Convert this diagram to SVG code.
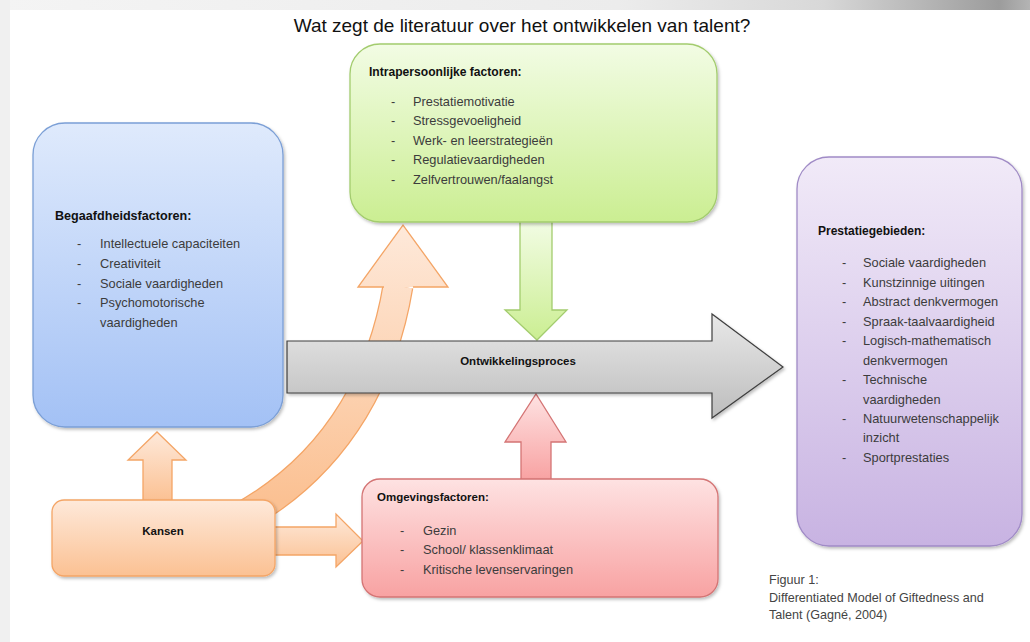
<svg xmlns="http://www.w3.org/2000/svg" width="1030" height="642" viewBox="0 0 1030 642">
<defs>
<linearGradient id="gTop" x1="0" y1="0" x2="1" y2="0">
<stop offset="0" stop-color="#f4f4f4"/><stop offset="0.6" stop-color="#ececec"/><stop offset="0.8" stop-color="#d8d8d8"/><stop offset="0.97" stop-color="#9c9c9c"/><stop offset="1" stop-color="#b4b4b4"/>
</linearGradient>
<linearGradient id="gBlue" x1="0" y1="0" x2="0" y2="1"><stop offset="0" stop-color="#dfeafc"/><stop offset="1" stop-color="#a3c1f5"/></linearGradient>
<linearGradient id="gGreen" x1="0" y1="0" x2="0" y2="1"><stop offset="0" stop-color="#f2fce4"/><stop offset="1" stop-color="#cbee92"/></linearGradient>
<linearGradient id="gPurple" x1="0" y1="0" x2="0" y2="1"><stop offset="0" stop-color="#f1eaf8"/><stop offset="1" stop-color="#c8b3e2"/></linearGradient>
<linearGradient id="gOrange" x1="0" y1="0" x2="0" y2="1"><stop offset="0" stop-color="#fee9da"/><stop offset="1" stop-color="#fbc193"/></linearGradient>
<linearGradient id="gRed" x1="0" y1="0" x2="0" y2="1"><stop offset="0" stop-color="#fee2e2"/><stop offset="1" stop-color="#f8a2a2"/></linearGradient>
<linearGradient id="gGray" x1="0" y1="0" x2="0" y2="1"><stop offset="0" stop-color="#e8e8e8"/><stop offset="1" stop-color="#bdbdbd"/></linearGradient>
<linearGradient id="gCurve" gradientUnits="userSpaceOnUse" x1="0" y1="225" x2="0" y2="500"><stop offset="0" stop-color="#fee9da"/><stop offset="1" stop-color="#fbc193"/></linearGradient>
<filter id="sh" x="-10%" y="-10%" width="130%" height="130%"><feDropShadow dx="1.5" dy="2" stdDeviation="1.5" flood-color="#000" flood-opacity="0.25"/></filter>
</defs>
<style>
.t{font-family:"Liberation Sans",Arial,sans-serif;font-size:12.8px;fill:#3c3c3c}
.b{font-family:"Liberation Sans",Arial,sans-serif;font-size:11.5px;font-weight:bold;fill:#111}
.ti{font-family:"Liberation Sans",Arial,sans-serif;font-size:19px;fill:#111}
.cap{font-family:"Liberation Sans",Arial,sans-serif;font-size:12.6px;fill:#444}
</style>
<rect x="0" y="0" width="1030" height="642" fill="#ffffff"/>
<rect x="0" y="0" width="1030" height="10" fill="url(#gTop)"/>
<rect x="0" y="0" width="10" height="642" fill="#f0f0f0"/>
<text class="ti" x="522" y="32" text-anchor="middle">Wat zegt de literatuur over het ontwikkelen van talent?</text>

<g id="connectors">
<!-- curved arrow Kansen -> Intrapersoonlijk -->
<path d="M398 286 C385 365 345 460 240 518" fill="none" stroke="#f4a566" stroke-width="31"/>
<path d="M398 286 C385 365 345 460 240 518" fill="none" stroke="url(#gCurve)" stroke-width="28.5"/>
<path d="M384 287 L358 287 L403 225 L448 287 L413 287" fill="url(#gCurve)" stroke="#f4a566" stroke-width="1.3"/>
<!-- up arrow Kansen -> Begaafdheid -->
<polygon points="143,501 143,460 128,460 157,432 186,460 172,460 172,501" fill="url(#gOrange)" stroke="#f4a566" stroke-width="1.3"/>
<!-- right arrow Kansen -> Omgeving -->
<polygon points="274,527 336,527 336,514 363,541 336,567 336,555 274,555" fill="url(#gOrange)" stroke="#f4a566" stroke-width="1.3"/>
<!-- green down arrow -->
<polygon points="520,221 552,221 552,310 567,310 537,340 505,310 520,310" fill="url(#gGreen)" stroke="#a3cc6e" stroke-width="1.3"/>
<!-- red up arrow -->
<polygon points="521,480 521,442 505,442 536,394 566,442 551,442 551,480" fill="url(#gRed)" stroke="#d47474" stroke-width="1.3"/>
<!-- gray main arrow -->
<polygon points="287,341 712,341 712,314 783,367 712,418 712,393 287,393" fill="url(#gGray)" stroke="#3f3f3f" stroke-width="1.2" filter="url(#sh)"/>
<text class="b" x="518" y="365" text-anchor="middle">Ontwikkelingsproces</text>
</g>

<g id="begaafdheid">
<rect x="33" y="123" width="250" height="304" rx="32" fill="url(#gBlue)" stroke="#7b9fd6" stroke-width="1.3" filter="url(#sh)"/>
<text class="b" x="55" y="220" style="font-size:12.6px">Begaafdheidsfactoren:</text>
<g class="t">
<text x="77" y="248">-</text><text x="100" y="248">Intellectuele capaciteiten</text>
<text x="77" y="268">-</text><text x="100" y="268">Creativiteit</text>
<text x="77" y="288">-</text><text x="100" y="288">Sociale vaardigheden</text>
<text x="77" y="307">-</text><text x="100" y="307">Psychomotorische</text>
<text x="100" y="327">vaardigheden</text>
</g>
</g>

<g id="intrapersoonlijk">
<rect x="350" y="44" width="367" height="178" rx="30" fill="url(#gGreen)" stroke="#a3cc6e" stroke-width="1.3" filter="url(#sh)"/>
<text class="b" x="369" y="76" style="font-size:12.1px">Intrapersoonlijke factoren:</text>
<g class="t">
<text x="391" y="106">-</text><text x="413" y="106">Prestatiemotivatie</text>
<text x="391" y="125">-</text><text x="413" y="125">Stressgevoeligheid</text>
<text x="391" y="145">-</text><text x="413" y="145">Werk- en leerstrategieën</text>
<text x="391" y="164">-</text><text x="413" y="164">Regulatievaardigheden</text>
<text x="391" y="184">-</text><text x="413" y="184">Zelfvertrouwen/faalangst</text>
</g>
</g>

<g id="prestatiegebieden">
<rect x="797" y="157" width="225" height="389" rx="32" fill="url(#gPurple)" stroke="#a08bc6" stroke-width="1.3" filter="url(#sh)"/>
<text class="b" x="818" y="235" style="font-size:12px">Prestatiegebieden:</text>
<g class="t">
<text x="842" y="267">-</text><text x="863" y="267">Sociale vaardigheden</text>
<text x="842" y="287">-</text><text x="863" y="287">Kunstzinnige uitingen</text>
<text x="842" y="306">-</text><text x="863" y="306">Abstract denkvermogen</text>
<text x="842" y="326">-</text><text x="863" y="326">Spraak-taalvaardigheid</text>
<text x="842" y="345">-</text><text x="863" y="345">Logisch-mathematisch</text>
<text x="863" y="365">denkvermogen</text>
<text x="842" y="384">-</text><text x="863" y="384">Technische</text>
<text x="863" y="404">vaardigheden</text>
<text x="842" y="423">-</text><text x="863" y="423">Natuurwetenschappelijk</text>
<text x="863" y="442">inzicht</text>
<text x="842" y="462">-</text><text x="863" y="462">Sportprestaties</text>
</g>
</g>

<g id="kansen">
<rect x="52" y="500" width="223" height="76" rx="12" fill="url(#gOrange)" stroke="#f4a566" stroke-width="1.3" filter="url(#sh)"/>
<text class="b" x="163" y="535" text-anchor="middle">Kansen</text>
</g>

<g id="omgeving">
<rect x="362" y="479" width="356" height="118" rx="18" fill="url(#gRed)" stroke="#d47474" stroke-width="1.3" filter="url(#sh)"/>
<text class="b" x="377" y="501">Omgevingsfactoren:</text>
<g class="t">
<text x="400" y="535">-</text><text x="423" y="535">Gezin</text>
<text x="400" y="554">-</text><text x="423" y="554">School/ klassenklimaat</text>
<text x="400" y="574">-</text><text x="423" y="574">Kritische levenservaringen</text>
</g>
</g>

<g id="caption" class="cap">
<text x="769" y="584">Figuur 1:</text>
<text x="769" y="602">Differentiated Model of Giftedness and</text>
<text x="769" y="619">Talent (Gagné, 2004)</text>
</g>
</svg>
